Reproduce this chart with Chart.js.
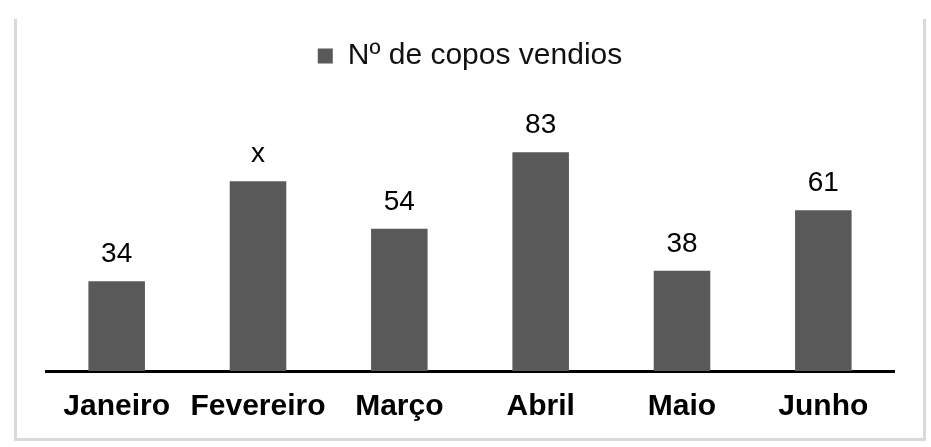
<!DOCTYPE html>
<html>
<head>
<meta charset="utf-8">
<script src="https://cdn.jsdelivr.net/npm/chart.js@4/dist/chart.umd.min.js"></script>
<style>
  html, body { margin: 0; padding: 0; background: #ffffff; }
  #wrap { position: relative; width: 931px; height: 447px; }
  #c { position: absolute; left: 0; top: 0; }
  #frame {
    position: absolute; left: 14px; top: 19px; width: 906px; height: 419px;
    border-left: 3px solid #d9d9d9; border-right: 3px solid #d9d9d9; border-bottom: 3px solid #d9d9d9;
    pointer-events: none;
  }
</style>
</head>
<body>
<div id="wrap">
  <canvas id="c" width="931" height="447"></canvas>
  <div id="frame"></div>
</div>
<script>
const categories = ['Janeiro', 'Fevereiro', 'Março', 'Abril', 'Maio', 'Junho'];
const seriesName = 'Nº de copos vendios';
const values = [34, 72, 54, 83, 38, 61];
const valueLabels = ['34', 'x', '54', '83', '38', '61'];

const FONT = "'Liberation Sans', Arial, sans-serif";

const dataLabelPlugin = {
  id: 'dataLabelPlugin',
  afterDatasetsDraw(chart) {
    const ctx = chart.ctx;
    const meta = chart.getDatasetMeta(0);
    ctx.save();
    ctx.font = '28px ' + FONT;
    ctx.fillStyle = '#000000';
    ctx.textAlign = 'center';
    ctx.textBaseline = 'alphabetic';
    meta.data.forEach((bar, i) => {
      ctx.fillText(valueLabels[i], bar.x, bar.y - 19);
    });
    ctx.restore();
  }
};

new Chart(document.getElementById('c'), {
  type: 'bar',
  data: {
    labels: categories,
    datasets: [{
      label: seriesName,
      data: values,
      backgroundColor: '#595959',
      borderWidth: 0,
      barPercentage: 0.4,
      categoryPercentage: 1.0
    }]
  },
  options: {
    responsive: false,
    animation: false,
    devicePixelRatio: 1,
    layout: { padding: { left: 46, right: 37, top: 31, bottom: 12 } },
    plugins: {
      legend: {
        display: true,
        position: 'top',
        labels: {
          boxWidth: 15,
          boxHeight: 15,
          color: '#111111',
          font: { family: FONT, size: 30 },
          padding: 10
        }
      },
      tooltip: { enabled: false }
    },
    scales: {
      x: {
        grid: { display: false },
        border: { display: true, color: '#000000', width: 3 },
        ticks: {
          color: '#000000',
          font: { family: FONT, size: 30, weight: 'bold' },
          padding: 10,
          maxRotation: 0,
          autoSkip: false
        }
      },
      y: {
        display: false,
        min: 0,
        max: 110
      }
    }
  },
  plugins: [dataLabelPlugin]
});
</script>
</body>
</html>
